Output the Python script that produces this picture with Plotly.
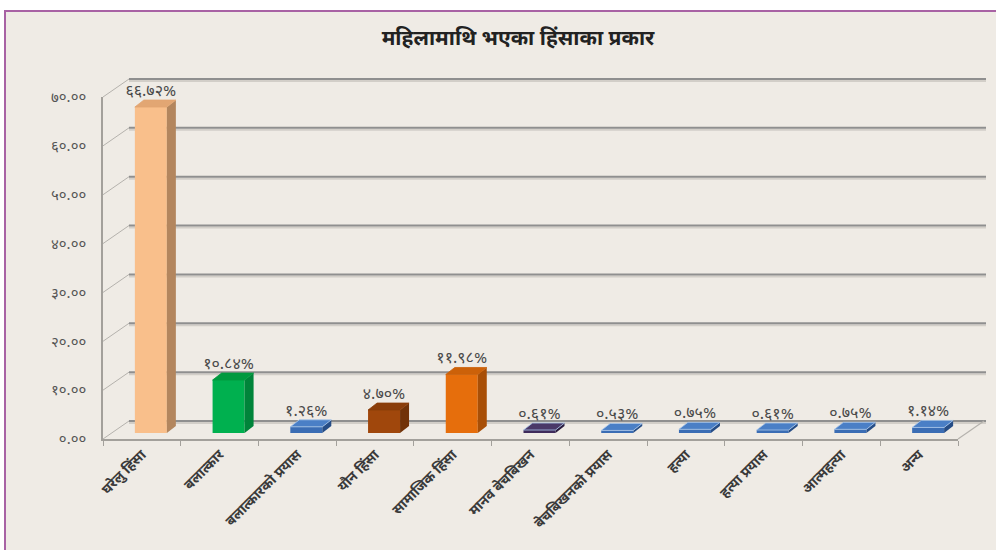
import plotly.graph_objects as go

# ---------------- data ----------------
categories = ["घरेलु हिंसा", "बलात्कार", "बलात्कारको प्रयास", "यौन हिंसा", "सामाजिक हिंसा",
              "मानव बेचबिखन", "बेचबिखनको प्रयास", "हत्या", "हत्या प्रयास", "आत्महत्या", "अन्य"]
values = [66.72, 10.84, 1.26, 4.70, 11.98, 0.61, 0.53, 0.75, 0.61, 0.75, 1.14]
y_ticks = [0, 10, 20, 30, 40, 50, 60, 70]
title_text = "महिलामाथि भएका हिंसाका प्रकार"

DEV = str.maketrans("0123456789", "०१२३४५६७८९")
def dev(s):
    return s.translate(DEV)

value_labels = [dev(f"{v:.2f}%") for v in values]
tick_labels = [dev(f"{t:.2f}") for t in y_ticks]

# ---------------- style ----------------
BLUE_F, BLUE_S, BLUE_T = "#3b6db4", "#264d86", "#4a7fc6"
front_colors = ["#f9bf8b", "#00b04f", BLUE_F, "#a0470c", "#e66e0c", "#3f2b5b"] + [BLUE_F] * 5
side_colors = ["#b3865e", "#00843a", BLUE_S, "#713208", "#a84f07", "#2a1c3e"] + [BLUE_S] * 5
top_colors = ["#e2a673", "#00993f", BLUE_T, "#8a3d0a", "#cc6109", "#4a3868"] + [BLUE_T] * 5

W, H = 996, 550
X0, X1 = 103, 958          # front floor, px
Y0, Y1 = 439, 97           # front y=0 and y=70, px
YMAX = 70
DX, DY = 26, 18            # wall depth, px
ppu = (Y0 - Y1) / YMAX     # px per unit
ncat = len(categories)
ppc = (X1 - X0) / ncat     # px per category

BW = 32 / ppc              # bar front width (units)
OFF = 9 / ppc              # bar front x offset (units)
BASE = 6 / ppu             # bar base lifted to mid depth
BDX = 9 / ppc              # bar depth x (units)
BDY = 7 / ppu              # bar depth y (units)

def xp(px):
    return px / W

def yp(py):
    return (H - py) / H

FONT = "Noto Sans Devanagari, Lohit Devanagari, Noto Sans, sans-serif"

fig = go.Figure()

xs = [i + OFF for i in range(ncat)]

fig.add_trace(go.Bar(x=xs, y=values, base=BASE, width=BW,
                     marker=dict(color=front_colors, line=dict(width=0)),
                     hoverinfo="skip", showlegend=False))

for i, v in enumerate(values):
    xc = xs[i]
    l, r = xc - BW / 2, xc + BW / 2
    b, t = BASE, BASE + v
    # side face
    fig.add_trace(go.Scatter(
        x=[r, r + BDX, r + BDX, r, r], y=[b, b + BDY, t + BDY, t, b],
        fill="toself", fillcolor=side_colors[i], mode="lines",
        line=dict(width=0, color=side_colors[i]), hoverinfo="skip",
        showlegend=False, cliponaxis=False))
    # top face
    fig.add_trace(go.Scatter(
        x=[l, l + BDX, r + BDX, r, l], y=[t, t + BDY, t + BDY, t, t],
        fill="toself", fillcolor=top_colors[i], mode="lines",
        line=dict(width=0.8, color="#a9c6ea" if v < 2 else top_colors[i]),
        hoverinfo="skip", showlegend=False, cliponaxis=False))

fig.add_trace(go.Scatter(
    x=xs, y=[BASE + v + BDY for v in values], mode="text", text=value_labels,
    textposition="top center", textfont=dict(family=FONT, size=16, color="#4a4a4a"),
    hoverinfo="skip", showlegend=False, cliponaxis=False))

shapes = []
# frame / background
shapes.append(dict(type="rect", xref="paper", yref="paper", x0=xp(5), x1=1.02,
                   y0=-0.02, y1=yp(11), fillcolor="#efebe5",
                   line=dict(color="#a862a4", width=2), layer="below"))
for t in y_ticks:
    yf = Y0 - t * ppu
    yb = yf - DY
    # shadow + back wall grid line
    shapes.append(dict(type="line", xref="paper", yref="paper",
                       x0=xp(X0 + DX), x1=xp(X1 + DX + 2), y0=yp(yb + 2), y1=yp(yb + 2),
                       line=dict(color="#d2cec8", width=2), layer="below"))
    shapes.append(dict(type="line", xref="paper", yref="paper",
                       x0=xp(X0 + DX), x1=xp(X1 + DX + 2), y0=yp(yb), y1=yp(yb),
                       line=dict(color="#8f8f8f", width=2), layer="below"))
    # left wall diagonal
    shapes.append(dict(type="line", xref="paper", yref="paper",
                       x0=xp(X0), x1=xp(X0 + DX), y0=yp(yf), y1=yp(yb),
                       line=dict(color="#b5b2ad", width=1), layer="below"))
# right floor diagonal
shapes.append(dict(type="line", xref="paper", yref="paper",
                   x0=xp(X1), x1=xp(X1 + DX), y0=yp(Y0), y1=yp(Y0 - DY),
                   line=dict(color="#b5b2ad", width=1.2), layer="below"))

fig.update_layout(
    width=W, height=H, autosize=False,
    margin=dict(l=0, r=0, t=0, b=0, pad=0),
    paper_bgcolor="white", plot_bgcolor="rgba(0,0,0,0)",
    shapes=shapes,
    title=dict(text="<b>" + title_text + "</b>", x=518 / W, y=yp(38),
               xanchor="center", yanchor="middle", automargin=False,
               font=dict(family=FONT, size=21, color="#222222")),
    xaxis=dict(domain=[xp(X0), xp(X1)], range=[-0.5, ncat - 0.5], automargin=False,
               tickmode="array", tickvals=list(range(ncat)),
               ticktext=["<b>" + c + "</b>" for c in categories],
               tickangle=-45, ticks="", showgrid=False, zeroline=False,
               showline=True, linecolor="#a3a09b", linewidth=2,
               tickfont=dict(family=FONT, size=14, color="#3a3a3a"),
               minor=dict(tickmode="array", tickvals=[i - 0.5 for i in range(ncat + 1)],
                          ticks="outside", ticklen=5, tickcolor="#a3a09b", tickwidth=1,
                          showgrid=False),
               fixedrange=True),
    yaxis=dict(domain=[yp(Y0), yp(Y1)], range=[0, YMAX], automargin=False,
               tickmode="array", tickvals=y_ticks, ticktext=tick_labels,
               showgrid=False, zeroline=False, showline=True, linecolor="#a3a09b",
               linewidth=1.5, ticks="", ticklabelstandoff=12,
               tickfont=dict(family=FONT, size=15, color="#555555"),
               fixedrange=True),
    bargap=0.5,
)

fig.write_html("out.html", config={"displayModeBar": False},
               post_script="document.body.style.margin='0';document.body.style.overflow='hidden';")
